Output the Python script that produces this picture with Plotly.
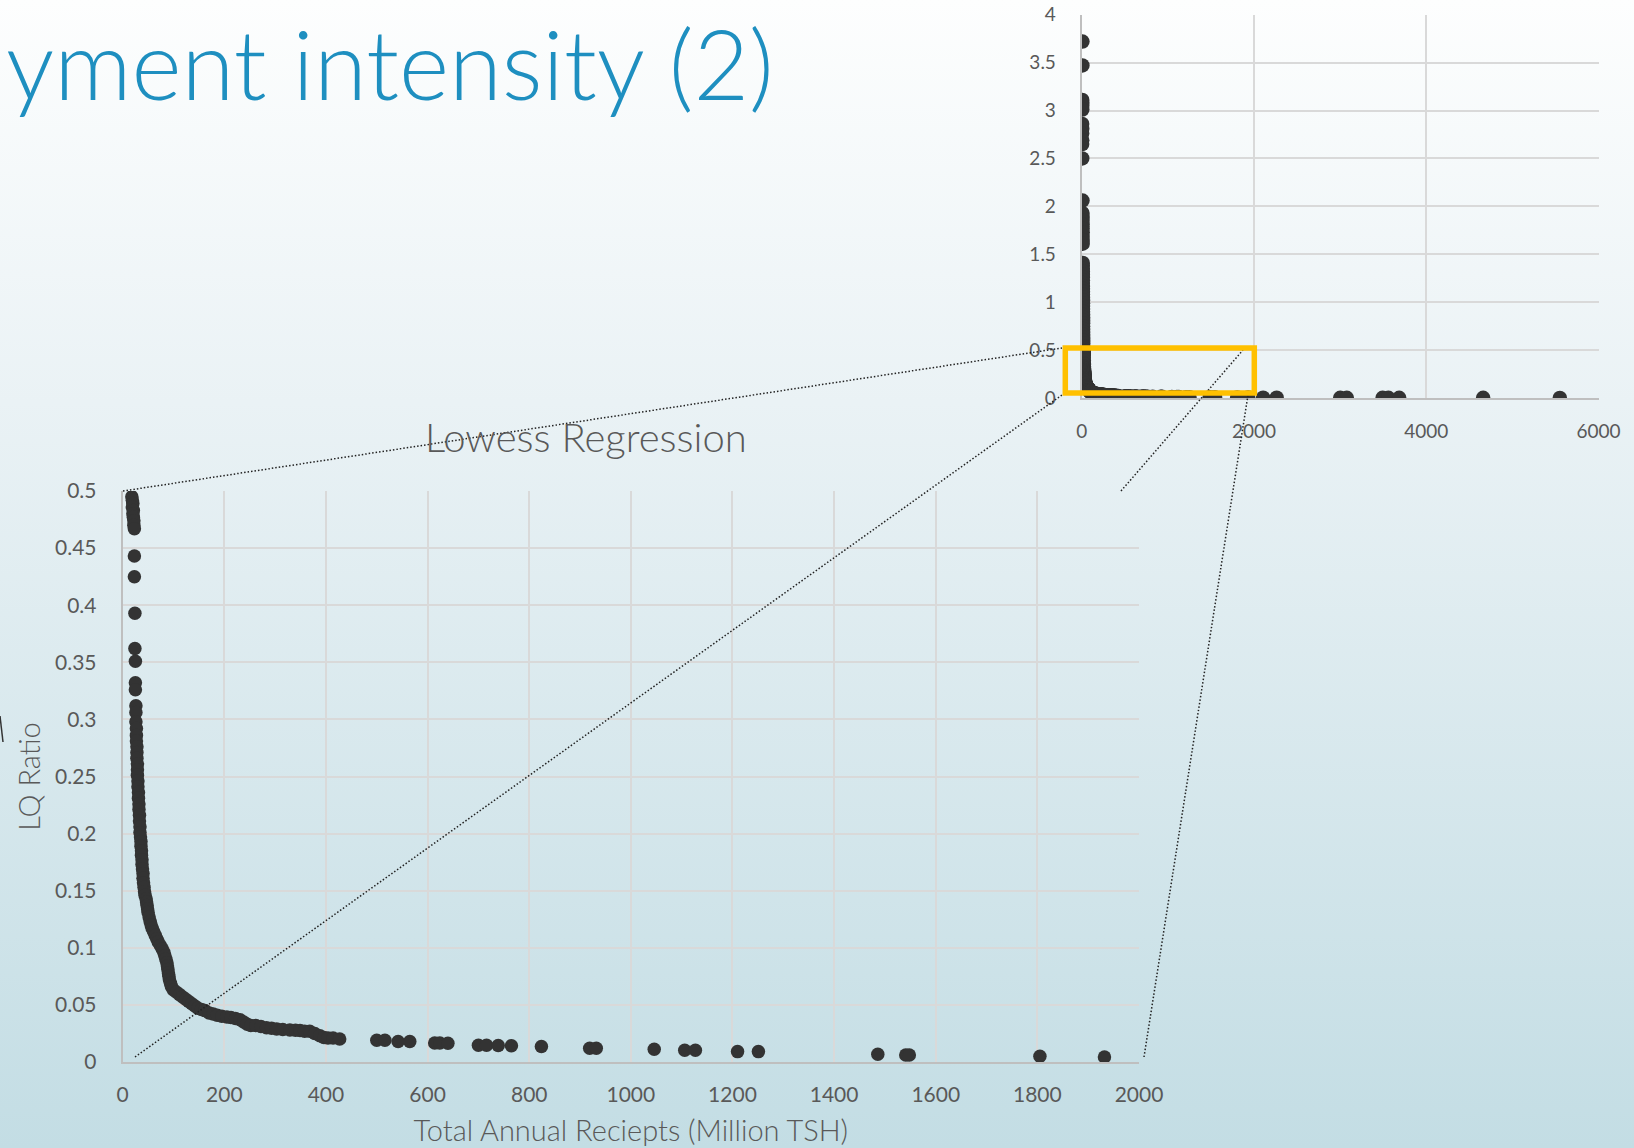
import base64
import plotly.graph_objects as go

W, H = 1634, 1148

# ---------------- data (Total annual receipts, LQ ratio) ----------------
# dense part of the curve (visible in the zoomed "Lowess Regression" chart)
curve_x = [18, 19, 20, 19, 21, 20, 21, 22, 22, 23,
           23, 23, 24, 24, 25, 25, 25, 26, 26,
           26, 27, 27, 27, 28, 28, 28, 29, 29, 29, 30, 30, 31, 31, 32, 32, 33, 33, 34, 34,
           35, 36, 36, 37, 37, 38, 38, 39, 40, 40, 41, 42, 43, 44, 46, 47, 48, 49, 50, 52,
           54, 56, 58, 61, 64, 67, 70, 74, 78, 81, 83, 85, 87, 88, 89, 90, 91, 92, 94, 96,
           100, 106, 112, 118, 124, 130, 136, 142, 148, 155, 162, 170, 178, 186, 195, 205,
           213, 222, 231, 238, 245, 252, 262, 272, 283, 293, 303, 315, 329, 340, 349, 358,
           368, 378, 388, 396, 404, 414, 427]
curve_y = [0.495, 0.492, 0.489, 0.486, 0.483, 0.480, 0.477, 0.474, 0.470, 0.467,
           0.443, 0.425, 0.393, 0.362, 0.351, 0.332, 0.326, 0.312, 0.306,
           0.298, 0.292, 0.286, 0.281, 0.276, 0.271, 0.266, 0.261, 0.256, 0.251, 0.246, 0.241,
           0.236, 0.231, 0.226, 0.221, 0.216, 0.211, 0.206, 0.201,
           0.197, 0.193, 0.189, 0.185, 0.181, 0.177, 0.173, 0.169, 0.165, 0.161, 0.157, 0.153,
           0.149, 0.146, 0.143, 0.140, 0.137, 0.134, 0.131, 0.127,
           0.123, 0.120, 0.117, 0.114, 0.111, 0.108, 0.105, 0.102, 0.099, 0.096, 0.093, 0.090,
           0.087, 0.084, 0.081, 0.078, 0.075, 0.072, 0.069, 0.066,
           0.063, 0.061, 0.059, 0.057, 0.055, 0.053, 0.051, 0.049, 0.047, 0.046, 0.045, 0.043,
           0.042, 0.041, 0.040, 0.0395,
           0.039, 0.038, 0.037, 0.035, 0.033, 0.032, 0.032, 0.031, 0.030, 0.0295, 0.029, 0.0285,
           0.028, 0.0278, 0.0275, 0.027,
           0.027, 0.025, 0.023, 0.0215, 0.021, 0.021, 0.0202]

# sparse tail of the curve
tail_x = [500, 516, 542, 565, 614, 624, 640, 700, 716, 739, 765, 824, 919, 932,
          1046, 1106, 1127, 1210, 1251, 1486, 1541, 1548, 1805, 1932]
tail_y = [0.019, 0.019, 0.018, 0.018, 0.0167, 0.0167, 0.0165, 0.0146, 0.0146, 0.0145,
          0.0143, 0.0135, 0.0121, 0.0121, 0.0112, 0.0103, 0.0103, 0.0091, 0.0091,
          0.0068, 0.0062, 0.0062, 0.0050, 0.0044]

# high LQ ratios (only in the full-range chart)
high_x = [8, 8, 6, 7, 6, 7, 5, 6, 5, 6, 5, 6,
          9, 9, 10, 9, 10, 10, 11, 10, 11, 11,
          12, 12, 12, 13, 13, 13, 13, 13, 14, 14, 14, 14, 14, 15, 15, 15, 15, 15,
          16, 16, 16, 16, 16, 17, 17, 17, 17, 17, 18, 18, 18]
high_y = [3.72, 3.47, 3.11, 3.08, 3.05, 3.01, 2.86, 2.81, 2.76, 2.69, 2.65, 2.50,
          2.06, 1.93, 1.89, 1.85, 1.81, 1.77, 1.73, 1.69, 1.65, 1.61,
          1.41, 1.38, 1.35, 1.32, 1.29, 1.26, 1.23, 1.20, 1.17, 1.14, 1.11, 1.08, 1.05,
          1.02, 0.99, 0.96, 0.93, 0.90,
          0.87, 0.84, 0.81, 0.78, 0.75, 0.72, 0.69, 0.66, 0.63, 0.60, 0.57, 0.54, 0.52]

# very large receipts (only in the full-range chart)
big_x = [2106, 2263, 3001, 3077, 3493, 3560, 3685, 4660, 5550]
big_y = [0.0035, 0.0030, 0.0025, 0.0024, 0.0020, 0.0020, 0.0019, 0.0015, 0.0012]

all_x = high_x + curve_x + tail_x + big_x
all_y = high_y + curve_y + tail_y + big_y

main_xticks = [0, 200, 400, 600, 800, 1000, 1200, 1400, 1600, 1800, 2000]
main_yticks = [0, 0.05, 0.1, 0.15, 0.2, 0.25, 0.3, 0.35, 0.4, 0.45, 0.5]
main_ytext = ["0", "0.05", "0.1", "0.15", "0.2", "0.25", "0.3", "0.35", "0.4", "0.45", "0.5"]
inset_xticks = [0, 2000, 4000, 6000]
inset_yticks = [0, 0.5, 1, 1.5, 2, 2.5, 3, 3.5, 4]
inset_ytext = ["0", "0.5", "1", "1.5", "2", "2.5", "3", "3.5", "4"]

slide_title = "yment intensity (2)"
chart_title = "Lowess Regression"
x_title = "Total Annual Reciepts (Million TSH)"
y_title = "LQ Ratio"

# ---------------- helpers ----------------
def px(x):
    return x / W

def py(y):
    return 1 - y / H

FONT = "Lato, 'Open Sans', sans-serif"
GREY = "#595959"
DOT = "#333333"

fig = go.Figure()
fig.add_trace(go.Scatter(x=all_x, y=all_y, mode="markers", xaxis="x", yaxis="y",
                         marker=dict(size=13.5, color=DOT, line=dict(width=0)),
                         showlegend=False, hoverinfo="skip"))
fig.add_trace(go.Scatter(x=all_x, y=all_y, mode="markers", xaxis="x2", yaxis="y2",
                         marker=dict(size=14.5, color=DOT, line=dict(width=0)),
                         showlegend=False, hoverinfo="skip"))

svg = ('<svg xmlns="http://www.w3.org/2000/svg" width="%d" height="%d">'
       '<defs><linearGradient id="g" x1="0" y1="0" x2="0" y2="1">'
       '<stop offset="0" stop-color="#FDFEFE"/>'
       '<stop offset="0.35" stop-color="#EAF2F5"/>'
       '<stop offset="1" stop-color="#C3DDE4"/>'
       '</linearGradient></defs>'
       '<rect width="%d" height="%d" fill="url(#g)"/></svg>') % (W, H, W, H)
bg = "data:image/svg+xml;base64," + base64.b64encode(svg.encode()).decode()

axis_common = dict(showgrid=True, gridcolor="#D9D9D9", gridwidth=1.5,
                   showline=True, linecolor="#BFBFBF", linewidth=2,
                   zeroline=False, ticks="", fixedrange=True, automargin=False)

main_x0, main_x1 = 122.7, 1139.0
main_y0, main_y1 = 491.0, 1062.0
ins_x0, ins_x1 = 1081.7, 1598.6
ins_y0, ins_y1 = 14.7, 398.0

tick_main = dict(size=21, color=GREY, family=FONT, weight=400)
tick_ins = dict(size=19, color=GREY, family=FONT, weight=400)

fig.update_layout(
    width=W, height=H,
    margin=dict(l=0, r=0, t=0, b=0, pad=0),
    paper_bgcolor="#E6F0F3",
    plot_bgcolor="rgba(0,0,0,0)",
    font=dict(family=FONT, color=GREY, weight=300),
    images=[dict(source=bg, xref="paper", yref="paper", x=0, y=1, sizex=1, sizey=1,
                 xanchor="left", yanchor="top", sizing="stretch", layer="below")],
    xaxis=dict(domain=[px(main_x0), px(main_x1)], range=[0, 2000], anchor="y",
               tickvals=main_xticks, ticktext=[str(v) for v in main_xticks],
               tickfont=tick_main, ticklabelstandoff=13,
               title=dict(text=x_title, font=dict(size=29, color=GREY, family=FONT, weight=300), standoff=15),
               **axis_common),
    yaxis=dict(domain=[py(main_y1), py(main_y0)], range=[0, 0.5], anchor="x",
               tickvals=main_yticks, ticktext=main_ytext,
               tickfont=tick_main, ticklabelstandoff=20,
               title=dict(text=y_title, font=dict(size=29, color=GREY, family=FONT, weight=300), standoff=6),
               **axis_common),
    xaxis2=dict(domain=[px(ins_x0), px(ins_x1)], range=[0, 6000], anchor="y2",
                tickvals=inset_xticks, ticktext=[str(v) for v in inset_xticks],
                tickfont=tick_ins, ticklabelstandoff=15,
                **axis_common),
    yaxis2=dict(domain=[py(ins_y1), py(ins_y0)], range=[0, 4], anchor="x2",
                tickvals=inset_yticks, ticktext=inset_ytext,
                tickfont=tick_ins, ticklabelstandoff=20,
                **axis_common),
    annotations=[
        dict(text=slide_title, xref="paper", yref="paper", x=px(4), y=py(62),
             xanchor="left", yanchor="middle", showarrow=False,
             font=dict(size=96, color="#1E8FC0", family=FONT, weight=300)),
        dict(text=chart_title, xref="paper", yref="paper", x=px(586), y=py(437),
             xanchor="center", yanchor="middle", showarrow=False,
             font=dict(size=40, color=GREY, family=FONT, weight=300)),
    ],
)

dotline = dict(color="#222222", width=1.5, dash="1.5px,2px")
shapes = [
    # zoom callout lines
    dict(type="line", xref="paper", yref="paper", x0=px(123), y0=py(491), x1=px(1062), y1=py(348), line=dotline),
    dict(type="line", xref="paper", yref="paper", x0=px(135), y0=py(1057), x1=px(1062), y1=py(395), line=dotline),
    dict(type="line", xref="paper", yref="paper", x0=px(1121), y0=py(491), x1=px(1243), y1=py(350), line=dotline),
    dict(type="line", xref="paper", yref="paper", x0=px(1144), y0=py(1057), x1=px(1248), y1=py(395), line=dotline),
    # highlight rectangle on the inset
    dict(type="rect", xref="paper", yref="paper", x0=px(1065.3), y0=py(393), x1=px(1254.3), y1=py(348),
         line=dict(color="#FFC000", width=5.5), fillcolor="rgba(0,0,0,0)"),
    # small cut-off mark at the left edge
    dict(type="line", xref="paper", yref="paper", x0=px(0), y0=py(716), x1=px(3), y1=py(742),
         line=dict(color="#333333", width=1.5)),
]
fig.update_layout(shapes=shapes)

fig.write_html("out.html", config={"displayModeBar": False},
               post_script="document.body.style.margin='0';document.body.style.overflow='hidden';")
